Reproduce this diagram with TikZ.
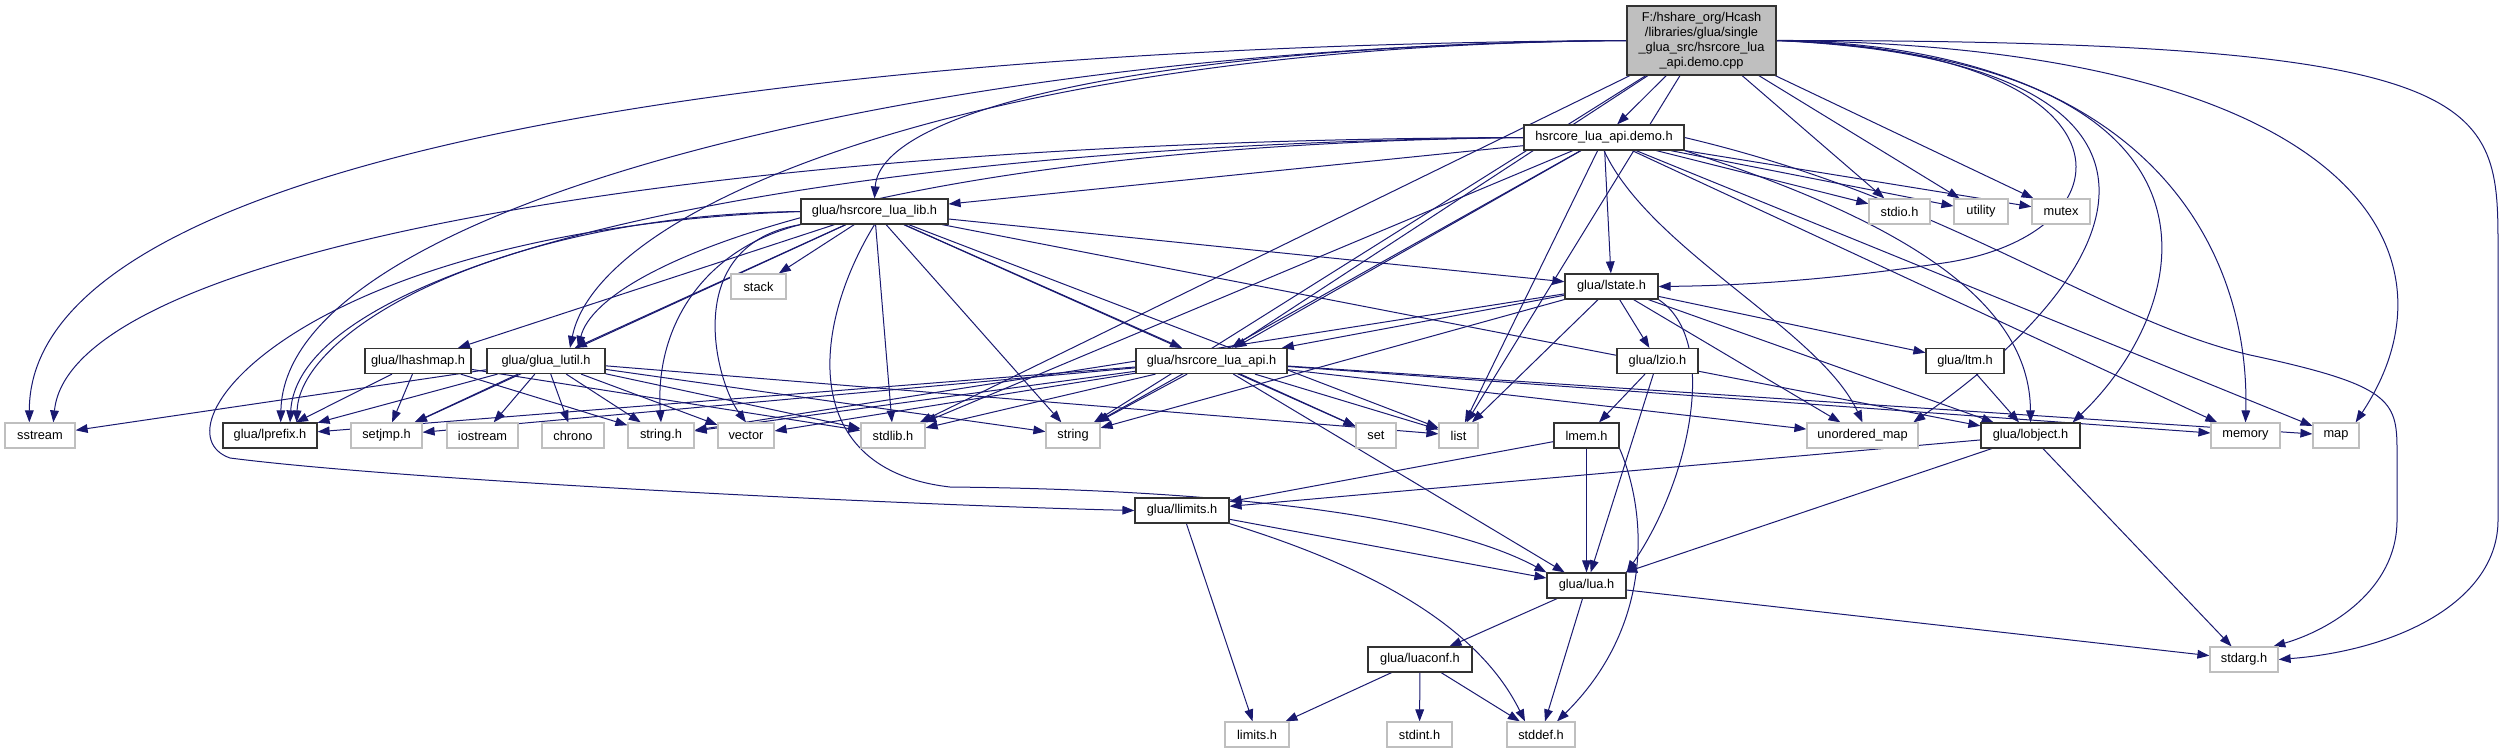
\documentclass[tikz,border=0pt]{standalone}
\usepackage{fontspec}
\setmainfont{Liberation Sans}
\usetikzlibrary{arrows.meta}
\definecolor{edgeblue}{HTML}{191970}
\definecolor{lightgr}{HTML}{BFBFBF}
\pgfdeclarelayer{bg}
\pgfsetlayers{bg,main}
\begin{document}
\begin{tikzpicture}[x=0.75pt,y=-0.75pt,
  box/.style={rectangle, inner sep=0pt, minimum height=18.75pt, fill=white,
    font=\fontsize{9.6pt}{11.2pt}\selectfont, line width=0.9pt},
  doc/.style={box, draw=black!80},
  sys/.style={box, draw=lightgr},
  bw/.style={minimum width=#1*0.75pt},
  dep/.style={draw=edgeblue, line width=0.75pt, -{Triangle[length=9pt,width=6.5pt]}},
]
\useasboundingbox (0,0) rectangle (2504,753);
% row 0-1
\node[doc, fill=lightgr, bw=149, minimum height=51.75pt, align=center,
  font=\fontsize{9.6pt}{11.3pt}\selectfont] (root) at (1701.5,40.5)
  {F:/hshare\_org/Hcash\\/libraries/glua/single\\\_glua\_src/hsrcore\_lua\\\_api.demo.cpp};
\node[doc, bw=160] (demo) at (1604,137.5) {hsrcore\_lua\_api.demo.h};
% row 2
\node[doc, bw=147] (lib) at (874.5,211.5) {glua/hsrcore\_lua\_lib.h};
\node[sys, bw=61] (stdio) at (1899.5,211.5) {stdio.h};
\node[sys, bw=54] (utility) at (1981,211.5) {utility};
\node[sys, bw=58] (mutex) at (2061,211.5) {mutex};
% row 3
\node[sys, bw=55] (stack) at (758.5,286.5) {stack};
\node[doc, bw=93] (lstate) at (1611.5,286.5) {glua/lstate.h};
% row 4
\node[doc, bw=106] (lhashmap) at (418,361) {glua/lhashmap.h};
\node[doc, bw=118] (lutil) at (546,361) {glua/glua\_lutil.h};
\node[doc, bw=151] (api) at (1211.5,361) {glua/hsrcore\_lua\_api.h};
\node[doc, bw=81] (lzio) at (1657.5,361) {glua/lzio.h};
\node[doc, bw=78] (ltm) at (1965,361) {glua/ltm.h};
% row 5
\node[sys, bw=70] (sstream) at (40,435.5) {sstream};
\node[doc, bw=94] (lprefix) at (270,435.5) {glua/lprefix.h};
\node[sys, bw=71] (setjmp) at (386.5,435.5) {setjmp.h};
\node[sys, bw=71] (iostream) at (482.5,435.5) {iostream};
\node[sys, bw=62] (chrono) at (573,435.5) {chrono};
\node[sys, bw=66] (stringh) at (661,435.5) {string.h};
\node[sys, bw=56] (vector) at (746,435.5) {vector};
\node[sys, bw=64] (stdlib) at (893,435.5) {stdlib.h};
\node[sys, bw=54] (string) at (1073,435.5) {string};
\node[sys, bw=40] (set) at (1376,435.5) {set};
\node[sys, bw=39] (list) at (1458.5,435.5) {list};
\node[doc, bw=65] (lmem) at (1586.5,435.5) {lmem.h};
\node[sys, bw=111] (umap) at (1862.5,435.5) {unordered\_map};
\node[doc, bw=99] (lobject) at (2030.5,435.5) {glua/lobject.h};
\node[sys, bw=69] (memory) at (2245.5,435.5) {memory};
\node[sys, bw=46] (map) at (2336,435.5) {map};
% lower rows
\node[doc, bw=94] (llimits) at (1182,510.5) {glua/llimits.h};
\node[doc, bw=79] (lua) at (1586.5,585.5) {glua/lua.h};
\node[doc, bw=104] (luaconf) at (1420,659.5) {glua/luaconf.h};
\node[sys, bw=68] (stdarg) at (2244,659.5) {stdarg.h};
\node[sys, bw=64] (limits) at (1257,734.5) {limits.h};
\node[sys, bw=65] (stdint) at (1419.5,734.5) {stdint.h};
\node[sys, bw=68] (stddef) at (1541,734.5) {stddef.h};
% waypoints
\coordinate (wA) at (1950,262);
\coordinate (wB) at (2498,250);
\coordinate (wC) at (2498,520);
\coordinate (wD) at (2250,355);
\coordinate (wE) at (2397,450);
\coordinate (wF) at (2397,520);
\coordinate (wG) at (230,458);
\coordinate (wH) at (950,487);
\begin{pgfonlayer}{bg}
% root
\draw[dep] (root) -- (demo);
\draw[dep] (root.west) .. controls (1150,45) and (880,110) .. (lib.north);
\draw[dep] (root.west) .. controls (1000,45) and (600,200) .. ([xshift=18pt]lutil.north);
\draw[dep] (root.west) .. controls (954,45) and (285,200) .. ([xshift=8pt]lprefix.north);
\draw[dep] (root.west) .. controls (800,45) and (29,150) .. ([xshift=-8pt]sstream.north);
\draw[dep] (root) -- (stdlib);
\draw[dep] (root) -- (string);
\draw[dep] (root) -- (list);
\draw[dep] (root) -- (api);
\draw[dep] (root) -- (stdio);
\draw[dep] (root) -- (utility);
\draw[dep] (root) -- (mutex);
\draw[dep] (root.east) .. controls (2140,50) and (2140,230) .. (wA) .. controls (1800,285) and (1700,286) .. (lstate.east);
\draw[dep] (root.east) .. controls (2200,60) and (2160,250) .. ([xshift=-4pt]umap.north east);
\draw[dep] (root.east) .. controls (2250,60) and (2200,300) .. ([xshift=-6pt]lobject.north east);
\draw[dep] (root.east) .. controls (2150,45) and (2250,250) .. (memory.north);
\draw[dep] (root.east) .. controls (2350,45) and (2470,250) .. ([xshift=-3pt]map.north east);
\draw[dep] (root.east) .. controls (2498,40) and (2498,100) .. (wB) -- (wC) .. controls (2498,600) and (2400,650) .. (stdarg.east);
% demo
\draw[dep] (demo) -- (lib);
\draw[dep] (demo.west) .. controls (700,140) and (70,250) .. ([xshift=10pt]sstream.north);
\draw[dep] (demo.west) .. controls (800,145) and (300,260) .. ([xshift=15pt]lprefix.north);
\draw[dep] (demo.west) .. controls (900,145) and (600,260) .. ([xshift=24pt]lutil.north);
\draw[dep] (demo) -- (api);
\draw[dep] (demo) -- (lstate);
\draw[dep] (demo) -- (stdlib);
\draw[dep] (demo) -- (string);
\draw[dep] (demo) -- (list);
\draw[dep] (demo.south) .. controls (1650,250) and (1820,330) .. (umap.north);
\draw[dep] (demo.south east) .. controls (1900,220) and (2030,300) .. (lobject.north);
\draw[dep] (demo) -- (memory);
\draw[dep] (demo) -- (map);
\draw[dep] (demo) -- (stdio);
\draw[dep] (demo) -- (utility);
\draw[dep] (demo) -- (mutex);
\draw[dep] (demo.east) .. controls (1950,200) and (2100,320) .. (wD) .. controls (2390,385) and (2397,400) .. (wE) -- (wF) .. controls (2397,590) and (2330,630) .. ([xshift=-4pt]stdarg.north east);
% lib
\draw[dep] (lib) -- (stack);
\draw[dep] (lib) -- (lstate);
\draw[dep] (lib) -- (api);
\draw[dep] (lib) -- (lhashmap);
\draw[dep] (lib) -- (lutil);
\draw[dep] (lib.west) .. controls (500,215) and (300,330) .. ([xshift=20pt]lprefix.north);
\draw[dep] (lib) -- (setjmp);
\draw[dep] (lib.south west) .. controls (700,250) and (655,330) .. (stringh.north);
\draw[dep] (lib.south west) .. controls (680,245) and (715,380) .. (vector.north);
\draw[dep] (lib) -- (stdlib);
\draw[dep] (lib) -- (string);
\draw[dep] (lib) -- (set);
\draw[dep] (lib) -- (list);
\draw[dep] (lib) -- (lobject);
\draw[dep] (lib.west) .. controls (300,230) and (150,430) .. (wG) .. controls (400,480) and (900,505) .. (llimits.west);
\draw[dep] (lib.south) .. controls (810,330) and (800,470) .. (wH) .. controls (1250,490) and (1450,520) .. (lua.north west);
% lhashmap
\draw[dep] (lhashmap) -- (lprefix);
\draw[dep] (lhashmap) -- (setjmp);
\draw[dep] (lhashmap) -- (stringh);
\draw[dep] (lhashmap) -- (stdlib);
% lutil
\draw[dep] (lutil) -- (sstream);
\draw[dep] (lutil) -- (lprefix);
\draw[dep] (lutil) -- (setjmp);
\draw[dep] (lutil) -- (iostream);
\draw[dep] (lutil) -- (chrono);
\draw[dep] (lutil) -- (stringh);
\draw[dep] (lutil) -- (vector);
\draw[dep] (lutil) -- (stdlib);
\draw[dep] (lutil) -- (string);
\draw[dep] (lutil) -- (list);
% api
\draw[dep] (api) -- (lprefix);
\draw[dep] (api) -- (setjmp);
\draw[dep] (api) -- (stringh);
\draw[dep] (api) -- (vector);
\draw[dep] (api) -- (stdlib);
\draw[dep] (api) -- (string);
\draw[dep] (api) -- (set);
\draw[dep] (api) -- (list);
\draw[dep] (api) -- (umap);
\draw[dep] (api) -- (memory);
\draw[dep] (api) -- (map);
\draw[dep] (api) -- (lua);
% lstate
\draw[dep] (lstate) -- (api);
\draw[dep] (lstate) -- (stringh);
\draw[dep] (lstate) -- (string);
\draw[dep] (lstate) -- (list);
\draw[dep] (lstate) -- (lzio);
\draw[dep] (lstate) -- (ltm);
\draw[dep] (lstate) -- (lobject);
\draw[dep] (lstate) -- (umap);
\draw[dep] (lstate.south east) .. controls (1720,340) and (1690,480) .. (lua.north east);
% lower
\draw[dep] (lzio) -- (lmem);
\draw[dep] (lzio) -- (lua);
\draw[dep] (lmem) -- (llimits);
\draw[dep] (lmem) -- (lua);
\draw[dep] (lmem.south east) .. controls (1650,520) and (1650,630) .. ([xshift=12pt]stddef.north);
\draw[dep] (ltm) -- (lobject);
\draw[dep] (lobject) -- (llimits);
\draw[dep] (lobject) -- (lua);
\draw[dep] (lobject) -- (stdarg);
\draw[dep] (llimits) -- (limits);
\draw[dep] (llimits) -- (lua);
\draw[dep] (llimits.south east) .. controls (1380,570) and (1480,630) .. ([xshift=-12pt]stddef.north);
\draw[dep] (lua) -- (luaconf);
\draw[dep] (lua) -- (stddef);
\draw[dep] (lua) -- (stdarg);
\draw[dep] (luaconf) -- (limits);
\draw[dep] (luaconf) -- (stdint);
\draw[dep] (luaconf) -- (stddef);
\end{pgfonlayer}
\end{tikzpicture}
\end{document}
